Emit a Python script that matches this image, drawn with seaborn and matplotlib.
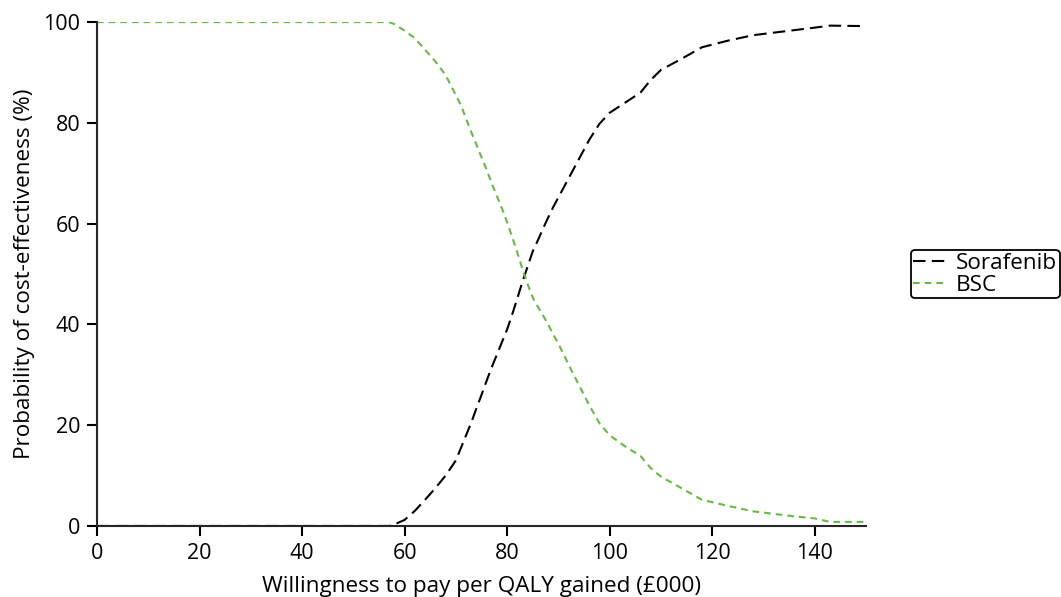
import seaborn as sns
import matplotlib.pyplot as plt
import pandas as pd

# willingness to pay (£000) and probability of cost-effectiveness (%)
wtp = [0, 56, 57, 58, 60, 62, 64, 66, 68, 70, 71, 72, 73, 74, 75, 76, 77, 78,
       79, 80, 81, 82, 83, 84, 85, 86, 87, 88, 89, 90, 92, 94, 96, 98, 100,
       103, 106, 108, 110, 114, 118, 123, 128, 136, 140, 143, 150]
sorafenib = [0, 0, 0, 0.3, 1.2, 3, 5.2, 7.5, 10, 13, 15.5, 18, 20.5, 23.3, 26,
             28.8, 31.5, 34, 36.5, 39, 42, 45.2, 48.5, 51.5, 54.5, 56.7, 59,
             61.2, 63.3, 65.2, 69, 72.8, 76.6, 79.8, 82, 84, 86, 88.5, 90.5,
             92.7, 95, 96.3, 97.4, 98.4, 98.9, 99.3, 99.2]
bsc = [100, 100, 100, 99.6, 98.3, 96.8, 94.5, 92.2, 89.5, 85.5, 83.5, 80.8,
       78.2, 75.7, 73.2, 70.7, 68, 65.5, 63, 60.3, 57.3, 54.2, 51, 48, 45.3,
       43.5, 41.8, 40, 38, 36.2, 32, 28, 24, 20.4, 18, 15.8, 13.9, 11.5, 9.8,
       7.5, 5.2, 4, 2.9, 1.9, 1.5, 0.8, 0.8]

df = pd.DataFrame({'wtp': wtp, 'Sorafenib': sorafenib, 'BSC': bsc})

sns.set_style('ticks')
plt.rcParams['font.family'] = ['Open Sans', 'DejaVu Sans']
plt.rcParams['text.color'] = 'black'
plt.rcParams['axes.labelcolor'] = 'black'
plt.rcParams['xtick.color'] = 'black'
plt.rcParams['ytick.color'] = 'black'

fig = plt.figure(figsize=(10.61, 5.97), dpi=100)
ax = fig.add_axes([0.0914, 0.119, 0.7248, 0.844])

sns.lineplot(data=df, x='wtp', y='Sorafenib', ax=ax, color='black', lw=1.5,
             label='Sorafenib')
sns.lineplot(data=df, x='wtp', y='BSC', ax=ax, color='#66bb44', lw=1.5,
             label='BSC')
ax.lines[0].set_dashes([6, 3])
ax.lines[1].set_dashes([3.2, 2.4])

ax.set_xlim(0, 150)
ax.set_ylim(0, 100)
ax.set_xticks(range(0, 141, 20))
ax.set_yticks(range(0, 101, 20))
ax.tick_params(labelsize=15.5, length=7, width=1.5, direction='out', pad=5)
ax.set_xlabel('Willingness to pay per QALY gained (£000)', fontsize=16.2,
              labelpad=9)
ax.set_ylabel('Probability of cost-effectiveness (%)', fontsize=16.2,
              labelpad=6)
sns.despine(ax=ax)
for s in ['left', 'bottom']:
    ax.spines[s].set_linewidth(1.5)

leg = ax.legend(loc='upper left', bbox_to_anchor=(1.058, 0.548), fontsize=16.2,
                frameon=True, fancybox=True, edgecolor='black', framealpha=1,
                handlelength=1.5, handletextpad=0.4, borderpad=0.12,
                labelspacing=0.05, borderaxespad=0)
leg.get_frame().set_linewidth(1.3)

fig.savefig('out.png', dpi=100)
